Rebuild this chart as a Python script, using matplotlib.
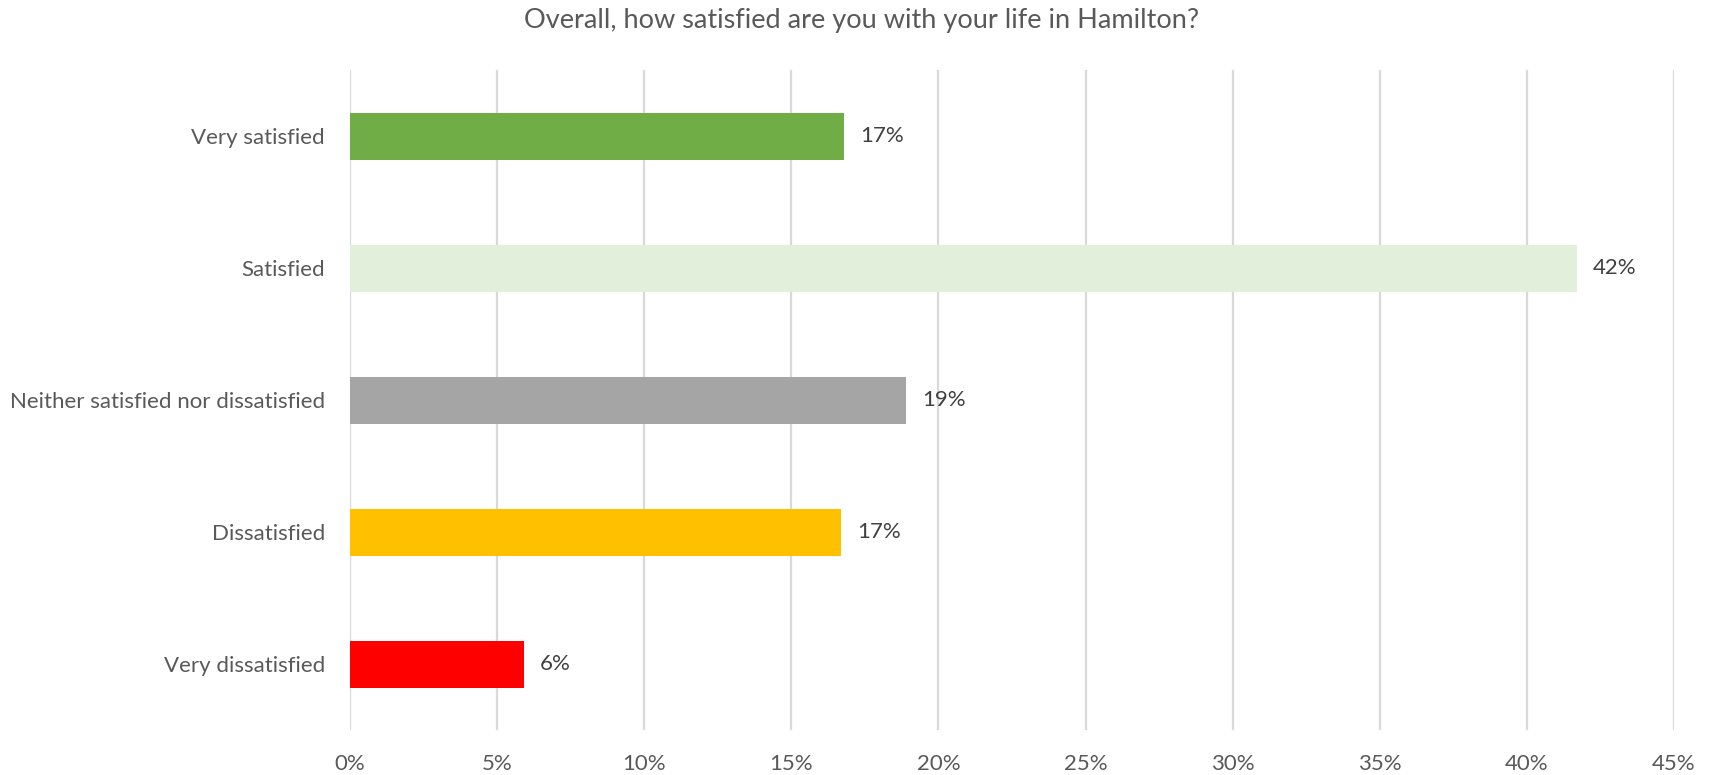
import matplotlib.pyplot as plt
from matplotlib.ticker import FuncFormatter

# Survey responses (percent of respondents)
categories = ['Very satisfied', 'Satisfied', 'Neither satisfied nor dissatisfied',
              'Dissatisfied', 'Very dissatisfied']
values = [16.8, 41.7, 18.9, 16.7, 5.9]
colors = ['#70AD47', '#E2EFDA', '#A5A5A5', '#FFC000', '#FF0000']
xticks = [0, 5, 10, 15, 20, 25, 30, 35, 40, 45]

text_col = '#595959'
plt.rcParams['font.family'] = ['Lato', 'DejaVu Sans']

fig = plt.figure(figsize=(17.09, 7.75), dpi=100)
ax = fig.add_axes([0.2048, 0.058, 0.7747, 0.8516])

pos = list(range(len(categories)))
ax.barh(pos, values, height=0.356, color=colors, zorder=3)
for p, v in zip(pos, values):
    ax.annotate(f'{v:.0f}%', (v, p), xytext=(11.5, 0), textcoords='offset points',
                va='center', ha='left', fontsize=16, color='#404040')

ax.set_xlim(0, 45)
ax.set_ylim(len(categories) - 0.5, -0.5)
ax.set_xticks(xticks)
ax.xaxis.set_major_formatter(FuncFormatter(lambda x, _: f'{x:.0f}%'))
ax.set_yticks(pos)
ax.set_yticklabels(categories)
ax.tick_params(axis='both', length=0, labelsize=16, labelcolor=text_col)
ax.tick_params(axis='y', pad=18)
ax.tick_params(axis='x', pad=17)
ax.grid(axis='x', color='#D9D9D9', linewidth=1.6, zorder=0)
for s in ax.spines.values():
    s.set_visible(False)

fig.suptitle('Overall, how satisfied are you with your life in Hamilton?',
             x=0.504, y=0.99, fontsize=19.5, color=text_col)

plt.savefig('out.png', dpi=100)
